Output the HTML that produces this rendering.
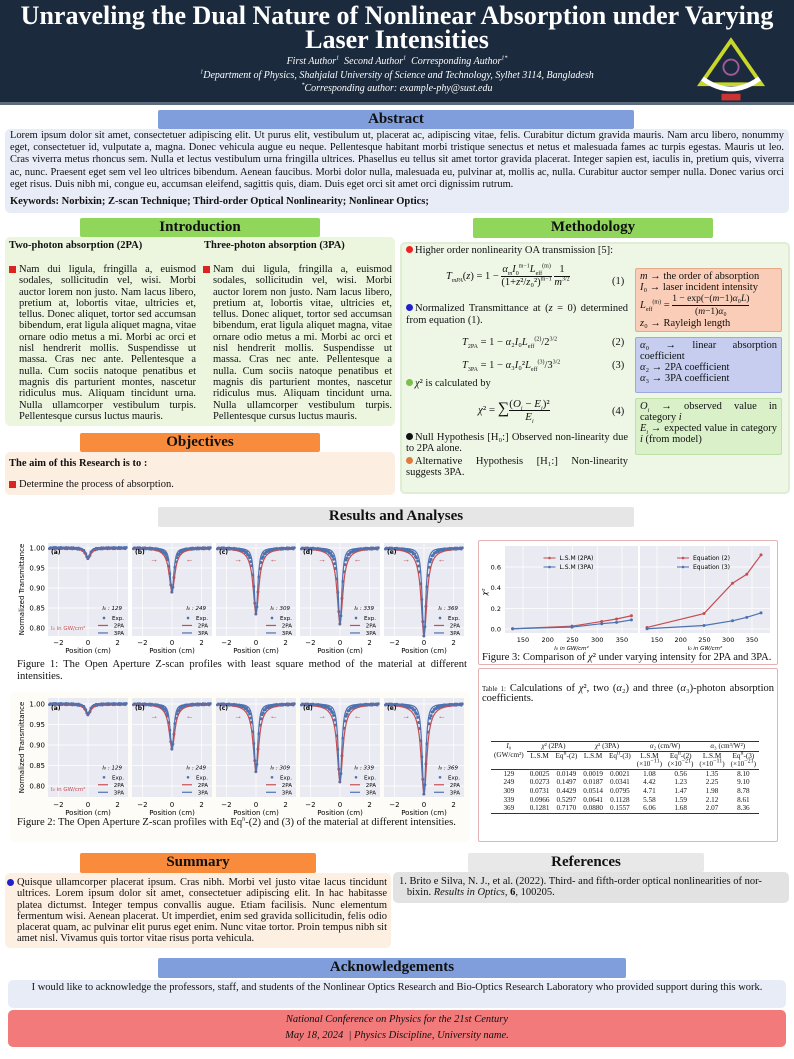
<!DOCTYPE html>
<html lang="en"><head><meta charset="utf-8">
<style>
*{margin:0;padding:0;box-sizing:border-box}
body{width:794px;height:1059px;position:relative;background:#fff;font-family:"Liberation Serif",serif;font-size:10.5px;color:#111;overflow:hidden}
.a{position:absolute}
.bar{position:absolute;text-align:center;font-weight:bold;font-size:15px;line-height:19px;border-radius:2px}
.box{position:absolute;border-radius:5px}
.j{text-align:justify;line-height:11.3px;hyphens:auto;-webkit-hyphens:auto}
.hd{font-weight:bold;font-size:10.5px}
.dot{display:inline-block;width:7px;height:7px;border-radius:50%;margin-right:2px;vertical-align:-0px}
.sq{position:absolute;left:-10px;top:2px;width:7px;height:7px;background:#d22}
.frac{display:inline-block;vertical-align:middle;text-align:center}
.frac span{display:block;line-height:12px}
.frac .dn{border-top:1px solid #111}
sup,sub{line-height:0}
i{font-style:italic}
table{border-collapse:collapse;font-size:7.2px}
td{padding:0 3px;text-align:center;line-height:8.6px}
</style></head><body>
<!-- header -->
<div class="a" style="left:0;top:0;width:794px;height:105px;background:#1b2a3d;border-bottom:3px solid #5d6b7c"></div>
<div class="a" style="left:0;top:4px;width:794px;text-align:center;color:#fff;font-weight:bold;font-size:26px;line-height:24px">Unraveling the Dual Nature of Nonlinear Absorption under Varying<br>Laser Intensities</div>
<div class="a" style="left:0;top:55px;width:794px;text-align:center;color:#fff;font-style:italic;font-size:10px;line-height:13.5px">First Author<sup style="font-size:6px">1</sup>&nbsp; Second Author<sup style="font-size:6px">1</sup>&nbsp; Corresponding Author<sup style="font-size:6px">1*</sup><br><sup style="font-size:6px">1</sup>Department of Physics, Shahjalal University of Science and Technology, Sylhet 3114, Bangladesh<br><sup style="font-size:6px">*</sup>Corresponding author: example-phy@sust.edu</div>
<svg class="a" style="left:693px;top:36px" width="76" height="68" viewBox="0 0 80 70">
<path d="M40 4 L72 50 L8 50 Z" fill="#1b2a3d" stroke="#c9d62a" stroke-width="4"/>
<path d="M10 44 Q40 66 70 44" stroke="#fff" stroke-width="5" fill="none"/>
<circle cx="40" cy="32" r="8" fill="none" stroke="#a05a9a" stroke-width="2"/>
<rect x="30" y="60" width="20" height="7" fill="#c33"/>
</svg>
<!-- abstract -->
<div class="bar" style="left:158px;top:110px;width:476px;height:19px;background:#7f9edb">Abstract</div>
<div class="box" style="left:5px;top:129px;width:784px;height:84px;background:#e8ecf6"></div>
<div class="a j" style="left:10px;top:130px;width:774px;line-height:12.2px;font-size:10.4px">Lorem ipsum dolor sit amet, consectetuer adipiscing elit. Ut purus elit, vestibulum ut, placerat ac, adipiscing vitae, felis. Curabitur dictum gravida mauris. Nam arcu libero, nonummy eget, consectetuer id, vulputate a, magna. Donec vehicula augue eu neque. Pellentesque habitant morbi tristique senectus et netus et malesuada fames ac turpis egestas. Mauris ut leo. Cras viverra metus rhoncus sem. Nulla et lectus vestibulum urna fringilla ultrices. Phasellus eu tellus sit amet tortor gravida placerat. Integer sapien est, iaculis in, pretium quis, viverra ac, nunc. Praesent eget sem vel leo ultrices bibendum. Aenean faucibus. Morbi dolor nulla, malesuada eu, pulvinar at, mollis ac, nulla. Curabitur auctor semper nulla. Donec varius orci eget risus. Duis nibh mi, congue eu, accumsan eleifend, sagittis quis, diam. Duis eget orci sit amet orci dignissim rutrum.</div>
<div class="a" style="left:10px;top:196px;font-weight:bold;font-size:10.5px">Keywords: Norbixin; Z-scan Technique; Third-order Optical Nonlinearity; Nonlinear Optics;</div>
<!-- intro -->
<div class="bar" style="left:80px;top:218px;width:240px;height:19px;background:#8fd65b">Introduction</div>
<div class="box" style="left:5px;top:237px;width:390px;height:189px;background:#ecf6df"></div>
<div class="a hd" style="left:9px;top:240px">Two-photon absorption (2PA)</div>
<div class="a hd" style="left:204px;top:240px">Three-photon absorption (3PA)</div>
<div class="a j" style="left:19px;top:264px;width:177px"><span class="sq"></span>Nam dui ligula, fringilla a, euismod sodales, sollicitudin vel, wisi. Morbi auctor lorem non justo. Nam lacus libero, pretium at, lobortis vitae, ultricies et, tellus. Donec aliquet, tortor sed accumsan bibendum, erat ligula aliquet magna, vitae ornare odio metus a mi. Morbi ac orci et nisl hendrerit mollis. Suspendisse ut massa. Cras nec ante. Pellentesque a nulla. Cum sociis natoque penatibus et magnis dis parturient montes, nascetur ridiculus mus. Aliquam tincidunt urna. Nulla ullamcorper vestibulum turpis. Pellentesque cursus luctus mauris.</div>
<div class="a j" style="left:213px;top:264px;width:179px"><span class="sq"></span>Nam dui ligula, fringilla a, euismod sodales, sollicitudin vel, wisi. Morbi auctor lorem non justo. Nam lacus libero, pretium at, lobortis vitae, ultricies et, tellus. Donec aliquet, tortor sed accumsan bibendum, erat ligula aliquet magna, vitae ornare odio metus a mi. Morbi ac orci et nisl hendrerit mollis. Suspendisse ut massa. Cras nec ante. Pellentesque a nulla. Cum sociis natoque penatibus et magnis dis parturient montes, nascetur ridiculus mus. Aliquam tincidunt urna. Nulla ullamcorper vestibulum turpis. Pellentesque cursus luctus mauris.</div>
<!-- objectives -->
<div class="bar" style="left:80px;top:433px;width:240px;height:19px;background:#f98b3c">Objectives</div>
<div class="box" style="left:5px;top:452px;width:390px;height:43px;background:#fdeee2"></div>
<div class="a hd" style="left:9px;top:458px">The aim of this Research is to :</div>
<div class="a" style="left:19px;top:479px"><span class="sq"></span>Determine the process of absorption.</div>
<!-- methodology -->
<div class="bar" style="left:473px;top:218px;width:240px;height:20px;background:#8fd65b">Methodology</div>
<div class="box" style="left:400px;top:242px;width:390px;height:252px;background:#eef7e6;border:2px solid #dfeed3"></div>
<div class="a" style="left:406px;top:245px"><span class="dot" style="background:#e22"></span>Higher order nonlinearity OA transmission [5]:</div>
<div class="a" style="left:446px;top:264px"><i>T<sub style="font-size:6px">mPA</sub></i>(<i>z</i>) = 1 − <span class="frac"><span><i>α<sub style="font-size:6px">m</sub>I</i><sub style="font-size:6px">0</sub><sup style="font-size:6px">m−1</sup><i>L</i><sub style="font-size:6px">eff</sub><sup style="font-size:6px">(m)</sup></span><span class="dn">(1+<i>z</i>²/<i>z</i>₀²)<sup style="font-size:6px">m−1</sup></span></span> <span class="frac"><span>1</span><span class="dn"><i>m</i><sup style="font-size:6px">3/2</sup></span></span></div>
<div class="a" style="left:612px;top:276px">(1)</div>
<div class="a j" style="left:406px;top:303px;width:222px;line-height:11.5px"><span class="dot" style="background:#22c"></span>Normalized Transmittance at (<i>z</i> = 0) determined from equation (1).</div>
<div class="a" style="left:462px;top:337px"><i>T</i><sub style="font-size:6px">2PA</sub> = 1 − <i>α</i>₂<i>I</i>₀<i>L</i><sub style="font-size:6px">eff</sub><sup style="font-size:6px">(2)</sup>/2<sup style="font-size:6px">3/2</sup></div>
<div class="a" style="left:612px;top:337px">(2)</div>
<div class="a" style="left:462px;top:360px"><i>T</i><sub style="font-size:6px">3PA</sub> = 1 − <i>α</i>₃<i>I</i>₀²<i>L</i><sub style="font-size:6px">eff</sub><sup style="font-size:6px">(3)</sup>/3<sup style="font-size:6px">3/2</sup></div>
<div class="a" style="left:612px;top:360px">(3)</div>
<div class="a" style="left:406px;top:378px"><span class="dot" style="background:#7cc04a"></span><i>χ</i>² is calculated by</div>
<div class="a" style="left:478px;top:398px;font-size:11px"><i>χ</i>² = <span style="font-size:16px">∑</span><span class="frac"><span>(<i>O<sub style="font-size:6px">i</sub></i> − <i>E<sub style="font-size:6px">i</sub></i>)²</span><span class="dn"><i>E<sub style="font-size:6px">i</sub></i></span></span></div>
<div class="a" style="left:612px;top:406px">(4)</div>
<div class="a j" style="left:406px;top:432px;width:222px"><span class="dot" style="background:#111"></span>Null Hypothesis [H₀:] Observed non-linearity due to 2PA alone.</div>
<div class="a j" style="left:406px;top:456px;width:222px"><span class="dot" style="background:#e07a40"></span>Alternative Hypothesis [H₁:] Non-linearity suggests 3PA.</div>
<div class="box" style="left:635px;top:268px;width:147px;height:64px;background:#f9cdb8;border:1px solid #e8a88a;border-radius:2px;padding:2px 4px;line-height:11px"><i>m</i> → the order of absorption<br><i>I</i>₀ → laser incident intensity<br><i>L</i><sub style="font-size:6px">eff</sub><sup style="font-size:6px">(m)</sup> = <span class="frac" style="font-size:9.5px"><span>1 − exp(−(<i>m</i>−1)<i>α</i>₀<i>L</i>)</span><span class="dn">(<i>m</i>−1)<i>α</i>₀</span></span><br><i>z</i>₀ → Rayleigh length</div>
<div class="box j" style="left:635px;top:337px;width:147px;height:56px;background:#c6cdee;border:1px solid #9da9dc;border-radius:2px;padding:2px 4px;line-height:11px"><i>α</i>₀ → linear absorption coefficient<br><i>α</i>₂ → 2PA coefficient<br><i>α</i>₃ → 3PA coefficient</div>
<div class="box j" style="left:635px;top:398px;width:147px;height:57px;background:#d9f0c8;border:1px solid #bfe0a6;border-radius:2px;padding:2px 4px;line-height:11px"><i>O<sub style="font-size:6px">i</sub></i> → observed value in category <i>i</i><br><i>E<sub style="font-size:6px">i</sub></i> → expected value in category <i>i</i> (from model)</div>
<!-- results -->
<div class="bar" style="left:158px;top:507px;width:476px;height:20px;background:#e6e6e6">Results and Analyses</div>
<div class="box" style="left:10px;top:692px;width:460px;height:150px;background:#fdfcf6"></div>
<div class="a" style="left:17px;top:659px;width:450px;font-size:10.6px;line-height:11.5px;text-align:justify;hyphens:auto">Figure 1: The Open Aperture Z-scan profiles with least square method of the material at different intensities.</div>
<div class="a" style="left:17px;top:817px;font-size:10.6px;white-space:nowrap">Figure 2: The Open Aperture Z-scan profiles with Eq<sup style="font-size:6px">n</sup>-(2) and (3) of the material at different intensities.</div>
<div class="box" style="left:478px;top:540px;width:300px;height:125px;border:1px solid #e3b3b3;border-radius:2px"></div>
<div class="a" style="left:482px;top:652px;width:292px;font-size:10.5px;line-height:11.5px;text-align:justify">Figure 3: Comparison of <i>χ</i>² under varying intensity for 2PA and 3PA.</div>
<div class="box" style="left:478px;top:668px;width:300px;height:174px;border:1px solid #e3b3b3;border-radius:2px"></div>
<div class="a" style="left:482px;top:684px;width:292px;font-size:10.5px;line-height:10px;text-align:justify"><span style="font-size:7px">Table 1:</span> Calculations of <i>χ</i>², two (<i>α</i>₂) and three (<i>α</i>₃)-photon absorption coefficients.</div>
<div class="a" style="left:491px;top:741px">
<table>
<tr style="border-top:1px solid #333"><td><i>I</i>₀</td><td colspan="2" style="border-bottom:0.5px solid #333"><i>χ</i>² (2PA)</td><td colspan="2" style="border-bottom:0.5px solid #333"><i>χ</i>² (3PA)</td><td colspan="2" style="border-bottom:0.5px solid #333"><i>α</i>₂ (cm/W)</td><td colspan="2" style="border-bottom:0.5px solid #333"><i>α</i>₃ (cm³/W²)</td></tr>
<tr><td>(GW/cm²)</td><td>L.S.M</td><td>Eq<sup>n</sup>-(2)</td><td>L.S.M</td><td>Eq<sup>n</sup>-(3)</td><td>L.S.M</td><td>Eq<sup>n</sup>-(2)</td><td>L.S.M</td><td>Eq<sup>n</sup>-(3)</td></tr>
<tr style="border-bottom:0.5px solid #333"><td></td><td></td><td></td><td></td><td></td><td>(×10<sup>−11</sup>)</td><td>(×10<sup>−21</sup>)</td><td>(×10<sup>−11</sup>)</td><td>(×10<sup>−21</sup>)</td></tr>
<tr><td>129</td><td>0.0025</td><td>0.0149</td><td>0.0019</td><td>0.0021</td><td>1.08</td><td>0.56</td><td>1.35</td><td>8.10</td></tr>
<tr><td>249</td><td>0.0273</td><td>0.1497</td><td>0.0187</td><td>0.0341</td><td>4.42</td><td>1.23</td><td>2.25</td><td>9.10</td></tr>
<tr><td>309</td><td>0.0731</td><td>0.4429</td><td>0.0514</td><td>0.0795</td><td>4.71</td><td>1.47</td><td>1.98</td><td>8.78</td></tr>
<tr><td>339</td><td>0.0966</td><td>0.5297</td><td>0.0641</td><td>0.1128</td><td>5.58</td><td>1.59</td><td>2.12</td><td>8.61</td></tr>
<tr style="border-bottom:1px solid #333"><td>369</td><td>0.1281</td><td>0.7170</td><td>0.0880</td><td>0.1557</td><td>6.06</td><td>1.68</td><td>2.07</td><td>8.36</td></tr>
</table></div>
<svg id="plots" class="a" style="left:0;top:0" width="794" height="1059"></svg>
<!-- summary -->
<div class="bar" style="left:80px;top:853px;width:236px;height:20px;background:#f98b3c">Summary</div>
<div class="box" style="left:5px;top:873px;width:386px;height:75px;background:#fdefe2"></div>
<div class="a j" style="left:17px;top:877px;width:370px"><span class="dot" style="background:#22c;position:absolute;left:-10px;top:2px"></span>Quisque ullamcorper placerat ipsum. Cras nibh. Morbi vel justo vitae lacus tincidunt ultrices. Lorem ipsum dolor sit amet, consectetuer adipiscing elit. In hac habitasse platea dictumst. Integer tempus convallis augue. Etiam facilisis. Nunc elementum fermentum wisi. Aenean placerat. Ut imperdiet, enim sed gravida sollicitudin, felis odio placerat quam, ac pulvinar elit purus eget enim. Nunc vitae tortor. Proin tempus nibh sit amet nisl. Vivamus quis tortor vitae risus porta vehicula.</div>
<div class="bar" style="left:468px;top:853px;width:236px;height:19px;background:#e8e8e8">References</div>
<div class="box" style="left:393px;top:872px;width:396px;height:31px;background:#e2e2e2"></div>
<div class="a" style="left:399px;top:876px;width:384px;line-height:11.3px">1. Brito e Silva, N. J., et al. (2022). Third- and fifth-order optical nonlinearities of nor-<br>&nbsp;&nbsp;&nbsp;bixin. <i>Results in Optics</i>, <b>6</b>, 100205.</div>
<div class="bar" style="left:158px;top:958px;width:468px;height:20px;background:#7f9edb">Acknowledgements</div>
<div class="box" style="left:8px;top:980px;width:778px;height:28px;background:#e8ecf6"></div>
<div class="a" style="left:8px;top:982px;width:778px;text-align:center">I would like to acknowledge the professors, staff, and students of the Nonlinear Optics Research and Bio-Optics Research Laboratory who provided support during this work.</div>
<div class="box" style="left:8px;top:1010px;width:778px;height:37px;background:#f27a7a"></div>
<div class="a" style="left:8px;top:1012px;width:778px;text-align:center;font-style:italic;line-height:16px">National Conference on Physics for the 21st Century<br>May 18, 2024 &nbsp;| Physics Discipline, University name.</div>
<script>
const S=document.getElementById('plots');let h='';
const R='#c44e52',B='#4c72b0';
function zfig(top,bot,y100,pxPerUnit,tickY){
 const xs=[48,132,216,300,384],w=80,I=[129,249,309,339,369],D=[0.026,0.11,0.165,0.19,0.22],L='abcde';
 const Y=v=>y100+(1-v)*pxPerUnit;
 for(let k=0;k<5;k++){const x0=xs[k];const X=z=>x0+(z+2.7)/5.4*w;
  h+=`<rect x="${x0}" y="${top}" width="${w}" height="${bot-top}" fill="#eaeaf2"/>`;
  for(const z of [-2,0,2])h+=`<line x1="${X(z)}" x2="${X(z)}" y1="${top}" y2="${bot}" stroke="#fff" stroke-width="0.7"/><text x="${X(z)}" y="${tickY}" font-size="7" text-anchor="middle" font-family="DejaVu Sans">${z<0?'−2':z}</text>`;
  for(const v of [1,0.95,0.9,0.85,0.8])h+=`<line x1="${x0}" x2="${x0+w}" y1="${Y(v)}" y2="${Y(v)}" stroke="#fff" stroke-width="0.7"/>`;
  h+=`<text x="${x0+w/2}" y="${tickY+8}" font-size="7" text-anchor="middle" font-family="DejaVu Sans">Position (cm)</text>`;
  const d=D[k];let pr='',pb='';
  for(let z=-2.6;z<=2.6;z+=0.04){const r=1-d/(1+(z/0.22)**2)**0.9;const b=1-d/(1+(z/0.17)**2)**1.3;pr+=(pr?'L':'M')+X(z).toFixed(1)+','+Y(r).toFixed(1);pb+=(pb?'L':'M')+X(z).toFixed(1)+','+Y(b).toFixed(1);}
  for(let z=-2.6;z<=2.6;z+=0.07){const v=1-d/(1+(z/0.18)**2)+ (Math.sin(z*37)*0.0015);h+=`<circle cx="${X(z)}" cy="${Y(v)}" r="1.5" fill="${B}"/>`;}
  h+=`<path d="${pr}" stroke="${R}" stroke-width="1.2" fill="none"/><path d="${pb}" stroke="${B}" stroke-width="1.2" fill="none"/>`;
  h+=`<text x="${x0+3}" y="${Y(0.985)}" font-size="6" font-weight="bold" font-family="DejaVu Sans">(${L[k]})</text>`;
  if(k>0){h+=`<text x="${X(-1.2)}" y="${Y(0.965)}" font-size="8" fill="${R}" text-anchor="middle">→</text><text x="${X(1.2)}" y="${Y(0.965)}" font-size="8" fill="${R}" text-anchor="middle">←</text>`;}
  const ly=bot-(bot-top)*0.28;
  h+=`<text x="${x0+w-6}" y="${ly}" font-size="5.5" text-anchor="end" font-family="DejaVu Sans" font-style="italic">I₀ : ${I[k]}</text>`;
  const lab=['Exp.','2PA','3PA'];for(let j=0;j<3;j++){const yy=ly+8+j*7.5;h+=`<text x="${x0+w-4}" y="${yy+2}" font-size="5.5" text-anchor="end" font-family="DejaVu Sans">${lab[j]}</text>`;
   if(j==0)h+=`<circle cx="${x0+w-24}" cy="${yy}" r="1.3" fill="${B}"/>`;else h+=`<line x1="${x0+w-30}" x2="${x0+w-20}" y1="${yy}" y2="${yy}" stroke="${j==1?R:B}" stroke-width="1.2"/>`;}
  if(k==0)h+=`<text x="${x0+3}" y="${bot-6}" font-size="5.5" fill="${R}" font-family="DejaVu Sans">I₀ in GW/cm²</text>`;
 }
 for(const v of [1,0.95,0.9,0.85,0.8])h+=`<text x="45" y="${Y(v)+2.5}" font-size="7" text-anchor="end" font-family="DejaVu Sans">${v.toFixed(2)}</text>`;
 h+=`<text transform="translate(24,${(top+bot)/2}) rotate(-90)" font-size="7" text-anchor="middle" font-family="DejaVu Sans">Normalized Transmittance</text>`;
}
zfig(543,636,548,400,645);
zfig(698,797,704,410,807);
function c3(x0,x1,xa,xb,A,Bv,leg){const top=546,bot=633,Y=v=>629-v*103.3,X=t=>xa+(t-150)*(xb-xa)/200;
 h+=`<rect x="${x0}" y="${top}" width="${x1-x0}" height="${bot-top}" fill="#eaeaf2"/>`;
 for(const t of [150,200,250,300,350])h+=`<line x1="${X(t)}" x2="${X(t)}" y1="${top}" y2="${bot}" stroke="#fff" stroke-width="0.7"/><text x="${X(t)}" y="642" font-size="6.5" text-anchor="middle" font-family="DejaVu Sans">${t}</text>`;
 for(const v of [0,0.2,0.4,0.6])h+=`<line x1="${x0}" x2="${x1}" y1="${Y(v)}" y2="${Y(v)}" stroke="#fff" stroke-width="0.7"/>`;
 h+=`<text x="${(x0+x1)/2}" y="650" font-size="5.5" text-anchor="middle" font-family="DejaVu Sans" font-style="italic">I₀ in GW/cm²</text>`;
 const I=[129,249,309,339,369];
 [[A,R],[Bv,B]].forEach(([d,c])=>{let p='';I.forEach((t,i)=>{p+=(i?'L':'M')+X(t)+','+Y(d[i]);h+=`<circle cx="${X(t)}" cy="${Y(d[i])}" r="1.5" fill="${c}"/>`});h+=`<path d="${p}" stroke="${c}" stroke-width="1.2" fill="none"/>`;});
 leg.forEach((s,j)=>{const yy=558+j*9,lx=(x0+x1)/2-28;h+=`<line x1="${lx}" x2="${lx+12}" y1="${yy}" y2="${yy}" stroke="${j?B:R}"/><circle cx="${lx+6}" cy="${yy}" r="1.3" fill="${j?B:R}"/><text x="${lx+16}" y="${yy+2}" font-size="6" font-family="DejaVu Sans">${s}</text>`});
}
c3(505,638,523,622,[0.0025,0.0273,0.0731,0.0966,0.1281],[0.0019,0.0187,0.0514,0.0641,0.088],['L.S.M (2PA)','L.S.M (3PA)']);
c3(640,770,657,752,[0.0149,0.1497,0.4429,0.5297,0.717],[0.0021,0.0341,0.0795,0.1128,0.1557],['Equation (2)','Equation (3)']);
for(const v of [0,0.2,0.4,0.6])h+=`<text x="501" y="${629-v*103.3+2.5}" font-size="6.5" text-anchor="end" font-family="DejaVu Sans">${v.toFixed(1)}</text>`;
h+=`<text transform="translate(487,592) rotate(-90)" font-size="7" text-anchor="middle" font-family="DejaVu Sans" font-style="italic">χ²</text>`;
S.innerHTML=h;
</script>
</body></html>
